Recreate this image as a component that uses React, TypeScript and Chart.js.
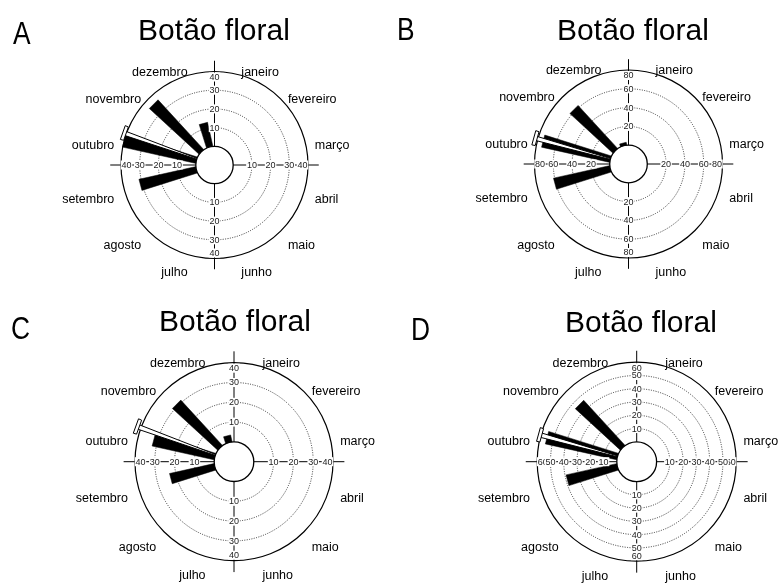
import React, { useEffect, useRef } from "react";
import { Chart, registerables } from "chart.js";

Chart.register(...registerables);

// ---------- data ----------
const months = [
  "janeiro", "fevereiro", "março", "abril", "maio", "junho",
  "julho", "agosto", "setembro", "outubro", "novembro", "dezembro",
];

// monthly counts (janeiro .. dezembro)
const valuesA = [0, 0, 0, 0, 0, 0, 0, 0, 31, 40, 36, 13];
const valuesB = [0, 0, 0, 0, 0, 0, 0, 0, 61, 74, 62, 3];
const valuesC = [0, 0, 0, 0, 0, 0, 0, 0, 23, 32, 31, 3.5];
const valuesD = [0, 0, 0, 0, 0, 0, 0, 0, 39, 55, 46, 0];

// radial tick labels
const ticksA = [10, 20, 30, 40];
const ticksB = [20, 40, 60, 80];
const ticksC = [10, 20, 30, 40];
const ticksD = [10, 20, 30, 40, 50, 60];

// mean vector (bearing in degrees, length as fraction of outer radius, CI half-width in degrees)
const meanAngles = [289.5, 285.5, 290, 285.5];
const meanLengths = [1.025, 1.03, 1.04, 1.01];
const ciHalfWidths = [4.3, 4.3, 4.2, 4.0];

const panelLetters = ["A", "B", "C", "D"];
const panelTitle = "Botão floral";

const panelValues = [valuesA, valuesB, valuesC, valuesD];
const panelTicks = [ticksA, ticksB, ticksC, ticksD];

// ---------- layout (positions / sizes only) ----------
const LAYOUT = [
  { left: 0, top: 0, w: 390, h: 292, cx: 214.5, cy: 165, outer: 93.5, titleX: 214, titleBase: 40.7, letterX: 12.7, letterBase: 44.3 },
  { left: 390, top: 0, w: 391, h: 292, cx: 238.5, cy: 164, outer: 94, titleX: 633, titleBase: 40.7, letterX: 397, letterBase: 40.5 },
  { left: 0, top: 292, w: 390, h: 292, cx: 234, cy: 169.7, outer: 99, titleX: 235, titleBase: 331.7, letterX: 11, letterBase: 339 },
  { left: 390, top: 292, w: 391, h: 292, cx: 246.7, cy: 169.7, outer: 99.5, titleX: 641, titleBase: 332, letterX: 411, letterBase: 340 },
];

const HALF = 118; // half side of chart area in px
const BAR_W0 = 5; // bar width model (px): w = BAR_W0 + BAR_WK * radiusPx
const BAR_WK = 0.085;
const VEC_HALF = 1.3; // half angle of mean vector bar (deg)
const FONT = "'Liberation Sans', Arial, Helvetica, sans-serif";

function polar(rU: number, deg: number) {
  const a = (deg * Math.PI) / 180;
  return { x: rU * Math.sin(a), y: rU * Math.cos(a) };
}

// point at radius rU along bearing deg, shifted sideways by offU (units)
function polarOff(rU: number, deg: number, offU: number) {
  const a = (deg * Math.PI) / 180;
  return {
    x: rU * Math.sin(a) + offU * Math.cos(a),
    y: rU * Math.cos(a) - offU * Math.sin(a),
  };
}

function RosePanel({ idx }: { idx: number }) {
  const ref = useRef<HTMLCanvasElement>(null);

  useEffect(() => {
    const L = LAYOUT[idx];
    const vals = panelValues[idx];
    const ticks = panelTicks[idx];
    const max = ticks[ticks.length - 1];
    const H = max / 4; // hole radius in value units
    const outerU = H + max;
    const uPerPx = outerU / L.outer;
    const range = HALF * uPerPx;

    const datasets: any[] = [];
    vals.forEach((v, i) => {
      if (v <= 0) return;
      const c = 15 + 30 * i;
      const r0 = H * 0.6;
      const r1 = H + v;
      const h0 = ((BAR_W0 + (BAR_WK * r0) / uPerPx) / 2) * uPerPx;
      const h1 = ((BAR_W0 + (BAR_WK * r1) / uPerPx) / 2) * uPerPx;
      datasets.push({
        label: months[i],
        data: [
          polarOff(r0, c, -h0),
          polarOff(r1, c, -h1),
          polarOff(r1, c, h1),
          polarOff(r0, c, h0),
          polarOff(r0, c, -h0),
        ],
        showLine: true,
        fill: "shape",
        backgroundColor: "#000",
        borderColor: "#000",
        borderWidth: 0.5,
        pointRadius: 0,
        tension: 0,
        order: 3,
      });
    });

    const a = meanAngles[idx];
    const LU = meanLengths[idx] * outerU;
    const r0 = H * 0.9;
    datasets.push({
      label: "vetor médio",
      data: [
        polar(r0, a - VEC_HALF),
        polar(LU, a - VEC_HALF),
        polar(LU, a + VEC_HALF),
        polar(r0, a + VEC_HALF),
        polar(r0, a - VEC_HALF),
      ],
      showLine: true,
      fill: "shape",
      backgroundColor: "#fff",
      borderColor: "#000",
      borderWidth: 1,
      pointRadius: 0,
      tension: 0,
      order: 2,
    });
    const ci = ciHalfWidths[idx];
    const t = 1.7 * uPerPx;
    datasets.push({
      label: "IC",
      data: [
        polar(LU - t, a - ci),
        polar(LU + t, a - ci),
        polar(LU + t, a + ci),
        polar(LU - t, a + ci),
        polar(LU - t, a - ci),
      ],
      showLine: true,
      fill: "shape",
      backgroundColor: "#fff",
      borderColor: "#000",
      borderWidth: 1,
      pointRadius: 0,
      tension: 0,
      order: 1,
    });

    const frame = {
      id: "roseFrame",
      beforeDatasetsDraw(chart: any) {
        const ctx = chart.ctx;
        const xs = chart.scales.x;
        const ys = chart.scales.y;
        const cx = xs.getPixelForValue(0);
        const cy = ys.getPixelForValue(0);
        const k = xs.getPixelForValue(1) - cx;
        ctx.save();
        ctx.strokeStyle = "#222";
        ctx.lineWidth = 0.9;
        ctx.setLineDash([1, 1.4]);
        ticks.slice(0, -1).forEach((tv) => {
          ctx.beginPath();
          ctx.arc(cx, cy, (H + tv) * k, 0, Math.PI * 2);
          ctx.stroke();
        });
        ctx.setLineDash([]);
        ctx.strokeStyle = "#000";
        ctx.lineWidth = 1.2;
        ctx.beginPath();
        ctx.arc(cx, cy, outerU * k, 0, Math.PI * 2);
        ctx.stroke();
        ctx.restore();
      },
      afterDatasetsDraw(chart: any) {
        const ctx = chart.ctx;
        const xs = chart.scales.x;
        const ys = chart.scales.y;
        const cx = xs.getPixelForValue(0);
        const cy = ys.getPixelForValue(0);
        const k = xs.getPixelForValue(1) - cx;
        const outerPx = outerU * k;
        const holePx = H * k;
        ctx.save();
        // hole
        ctx.beginPath();
        ctx.arc(cx, cy, holePx, 0, Math.PI * 2);
        ctx.fillStyle = "#fff";
        ctx.fill();
        ctx.strokeStyle = "#000";
        ctx.lineWidth = 1.3;
        ctx.stroke();
        // axes
        const ext = outerPx * 1.115;
        ctx.lineWidth = 1;
        ctx.beginPath();
        ctx.moveTo(cx, cy - holePx); ctx.lineTo(cx, cy - ext);
        ctx.moveTo(cx, cy + holePx); ctx.lineTo(cx, cy + ext);
        ctx.moveTo(cx - holePx, cy); ctx.lineTo(cx - ext, cy);
        ctx.moveTo(cx + holePx, cy); ctx.lineTo(cx + ext, cy);
        ctx.stroke();
        // tick labels
        ctx.font = `9px ${FONT}`;
        ctx.textAlign = "center";
        ctx.textBaseline = "middle";
        const ordered = ticks.slice().reverse();
        ordered.forEach((tv) => {
          const isOuter = tv === max;
          const r = isOuter ? outerPx - 5.5 : (H + tv) * k;
          const txt = String(tv);
          const w = ctx.measureText(txt).width + 1.5;
          const spots = [
            [cx, cy - r], [cx, cy + r], [cx - r, cy], [cx + r, cy],
          ];
          spots.forEach(([x, y]) => {
            ctx.fillStyle = "#fff";
            ctx.fillRect(x - w / 2, y - 4.5, w, 9);
            ctx.fillStyle = "#222";
            ctx.fillText(txt, x, y + 0.5);
          });
        });
        // month labels
        ctx.font = `12.5px ${FONT}`;
        ctx.fillStyle = "#000";
        ctx.textBaseline = "middle";
        const R = outerPx * 1.11;
        const shift = 8 * (outerPx / 99);
        months.forEach((m, i) => {
          const deg = 15 + 30 * i;
          const ar = (deg * Math.PI) / 180;
          const x = cx + R * Math.sin(ar);
          const y = cy - R * Math.cos(ar) + shift;
          ctx.textAlign = Math.sin(ar) > 0 ? "left" : "right";
          ctx.fillText(m, x, y);
        });
        ctx.restore();
      },
    };

    const chart = new Chart(ref.current as HTMLCanvasElement, {
      type: "scatter",
      data: { datasets },
      options: {
        responsive: false,
        animation: false,
        devicePixelRatio: 1,
        events: [],
        layout: {
          padding: {
            left: L.cx - HALF,
            top: L.cy - HALF,
            right: L.w - (L.cx + HALF),
            bottom: L.h - (L.cy + HALF),
          },
        },
        scales: {
          x: { type: "linear", min: -range, max: range, display: false },
          y: { type: "linear", min: -range, max: range, display: false },
        },
        plugins: {
          legend: { display: false },
          tooltip: { enabled: false },
        },
      },
      plugins: [frame],
    } as any);
    return () => chart.destroy();
  }, [idx]);

  const L = LAYOUT[idx];
  return (
    <canvas
      ref={ref}
      width={L.w}
      height={L.h}
      style={{ position: "absolute", left: L.left, top: L.top, width: L.w, height: L.h }}
    />
  );
}

export default function App() {
  const titleSize = 30;
  const letterSize = 31;
  return (
    <div style={{ position: "absolute", left: 0, top: 0, width: 781, height: 584, background: "#fff", overflow: "hidden" }}>
      {LAYOUT.map((L, i) => (
        <RosePanel key={i} idx={i} />
      ))}
      {LAYOUT.map((L, i) => (
        <div
          key={"t" + i}
          style={{
            position: "absolute",
            left: L.titleX - 150,
            width: 300,
            top: L.titleBase - 0.8465 * titleSize,
            fontFamily: FONT,
            fontSize: titleSize,
            lineHeight: `${titleSize}px`,
            textAlign: "center",
            color: "#000",
            whiteSpace: "nowrap",
          }}
        >
          {panelTitle}
        </div>
      ))}
      {LAYOUT.map((L, i) => (
        <div
          key={"l" + i}
          style={{
            position: "absolute",
            left: L.letterX,
            top: L.letterBase - 0.8465 * letterSize,
            fontFamily: FONT,
            fontSize: letterSize,
            lineHeight: `${letterSize}px`,
            color: "#000",
            transform: "scaleX(0.85)",
            transformOrigin: "left top",
          }}
        >
          {panelLetters[i]}
        </div>
      ))}
    </div>
  );
}
